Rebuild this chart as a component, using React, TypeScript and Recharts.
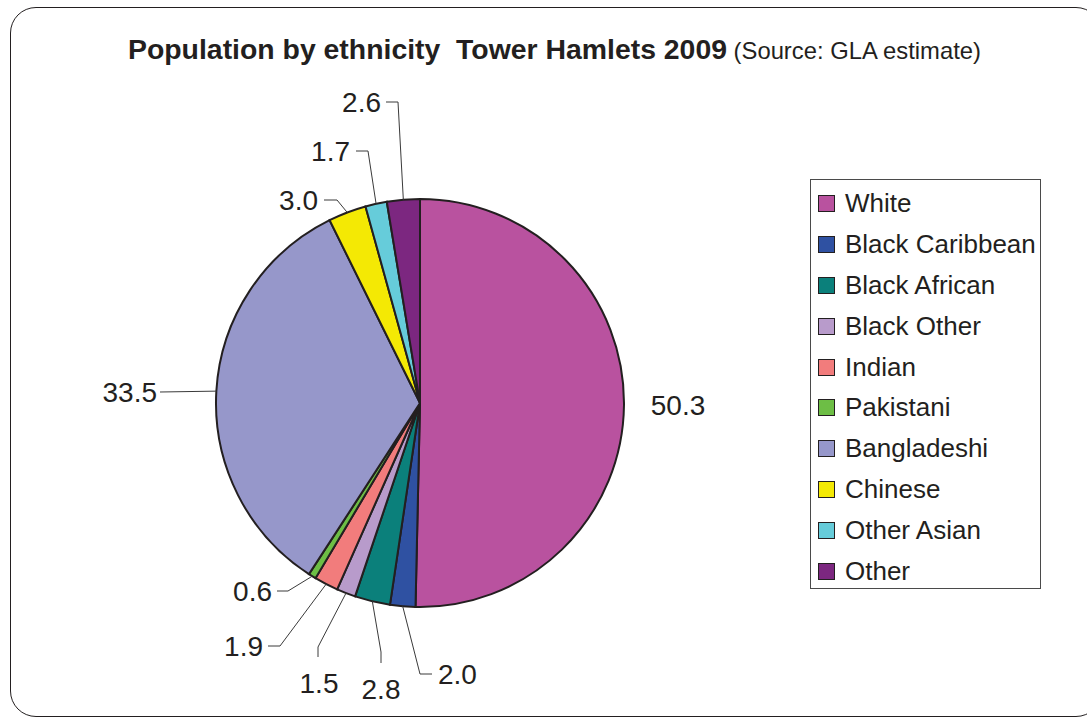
import React from 'react';
import { PieChart, Pie, Cell, Legend } from 'recharts';

const categories = ['White', 'Black Caribbean', 'Black African', 'Black Other', 'Indian', 'Pakistani', 'Bangladeshi', 'Chinese', 'Other Asian', 'Other'];
const shares = [50.3, 2.0, 2.8, 1.5, 1.9, 0.6, 33.5, 3.0, 1.7, 2.6];
const colors = ['#B9529F', '#2F51A2', '#0B807B', '#B89BCB', '#F27C7C', '#6DBE45', '#9697CA', '#F4E904', '#66CCDA', '#7C2780'];

const data = categories.map((name, i) => ({ name, value: shares[i] }));

// Label layout, relative to the pie centre: elbow, line end, text anchor point, text-anchor
type LabelLayout = { elbow: [number, number] | null; end: [number, number] | null; text: [number, number]; anchor: 'start' | 'middle' | 'end' };
const labelLayout: LabelLayout[] = [
  { elbow: null, end: null, text: [258, 2], anchor: 'middle' },
  { elbow: [0, 271], end: [12, 271], text: [18, 271], anchor: 'start' },
  { elbow: [-39, 249], end: [-39, 260], text: [-39, 286], anchor: 'middle' },
  { elbow: [-102, 244], end: [-102, 254], text: [-101, 280], anchor: 'middle' },
  { elbow: [-140, 243], end: [-152, 243], text: [-157, 243], anchor: 'end' },
  { elbow: [-132, 188], end: [-143, 188], text: [-148, 188], anchor: 'end' },
  { elbow: [-260, -11], end: [-260, -11], text: [-263, -11], anchor: 'end' },
  { elbow: [-83, -203], end: [-96, -203], text: [-102, -203], anchor: 'end' },
  { elbow: [-52, -252], end: [-64, -252], text: [-70, -252], anchor: 'end' },
  { elbow: [-22, -301], end: [-34, -301], text: [-39, -301], anchor: 'end' },
];

const RADIAN = Math.PI / 180;
const FONT = '"Liberation Sans", Arial, sans-serif';

const renderLabel = (props: any) => {
  const { cx, cy, midAngle, outerRadius, index, value } = props;
  const lay = labelLayout[index];
  const sx = cx + outerRadius * Math.cos(-midAngle * RADIAN);
  const sy = cy + outerRadius * Math.sin(-midAngle * RADIAN);
  const pts: string[] = [];
  if (lay.elbow && lay.end) {
    pts.push(`${sx},${sy}`);
    pts.push(`${cx + lay.elbow[0]},${cy + lay.elbow[1]}`);
    pts.push(`${cx + lay.end[0]},${cy + lay.end[1]}`);
  }
  return (
    <g key={`lbl-${index}`}>
      {pts.length > 0 && (
        <polyline points={pts.join(' ')} fill="none" stroke="#3a3a3a" strokeWidth={1} />
      )}
      <text
        x={cx + lay.text[0]}
        y={cy + lay.text[1]}
        dy="0.36em"
        textAnchor={lay.anchor}
        fontSize={28}
        fontFamily={FONT}
        fill="#231F20"
      >
        {Number(value).toFixed(1)}
      </text>
    </g>
  );
};

const renderLegend = () => {
  const items = categories.map((c, i) => ({ name: c, color: colors[i] }));
  return (
    <div
      style={{
        width: 231,
        height: 410,
        boxSizing: 'border-box',
        border: '1px solid #4a4a4a',
        paddingTop: 3,
        background: '#fff',
      }}
    >
      {items.map((it, i) => (
        <div key={i} style={{ height: 40.9, display: 'flex', alignItems: 'center' }}>
          <div
            style={{
              width: 17,
              height: 17,
              boxSizing: 'border-box',
              marginLeft: 7,
              background: it.color,
              border: '1.5px solid #231F20',
            }}
          />
          <span style={{ marginLeft: 10, fontSize: 26, fontFamily: FONT, color: '#231F20', whiteSpace: 'nowrap' }}>{it.name}</span>
        </div>
      ))}
    </div>
  );
};

export default function App() {
  return (
    <div
      style={{
        position: 'absolute',
        left: 0,
        top: 0,
        width: 1087,
        height: 718,
        overflow: 'hidden',
        background: '#fff',
        fontFamily: FONT,
      }}
    >
      <div
        style={{
          position: 'absolute',
          left: 10,
          top: 7,
          width: 1092,
          height: 710,
          border: '1.5px solid #231F20',
          borderRadius: 26,
          boxSizing: 'border-box',
        }}
      />
      <svg width={1087} height={80} style={{ position: 'absolute', left: 0, top: 0 }}>
        <text x={128} y={59} fill="#231F20" fontFamily={FONT} style={{ whiteSpace: 'pre' }}>
          <tspan fontWeight="bold" fontSize={28.4}>{'Population by ethnicity  Tower Hamlets 2009'}</tspan>
          <tspan fontSize={23.8}>{' (Source: GLA estimate)'}</tspan>
        </text>
      </svg>
      <div style={{ position: 'absolute', left: 0, top: 0 }}>
        <PieChart width={1087} height={718} margin={{ top: 0, right: 0, bottom: 0, left: 0 }}>
          <Pie
            data={data}
            dataKey="value"
            nameKey="name"
            cx={420}
            cy={403}
            outerRadius={204}
            startAngle={90}
            endAngle={-270}
            stroke="#231F20"
            strokeWidth={2}
            label={renderLabel}
            labelLine={false}
            isAnimationActive={false}
          >
            {data.map((d, i) => (
              <Cell key={d.name} fill={colors[i]} />
            ))}
          </Pie>
          <Legend
            layout="vertical"
            align="right"
            verticalAlign="top"
            content={renderLegend}
            wrapperStyle={{ position: 'absolute', left: 810, top: 179, width: 231, height: 410 }}
          />
        </PieChart>
      </div>
    </div>
  );
}
